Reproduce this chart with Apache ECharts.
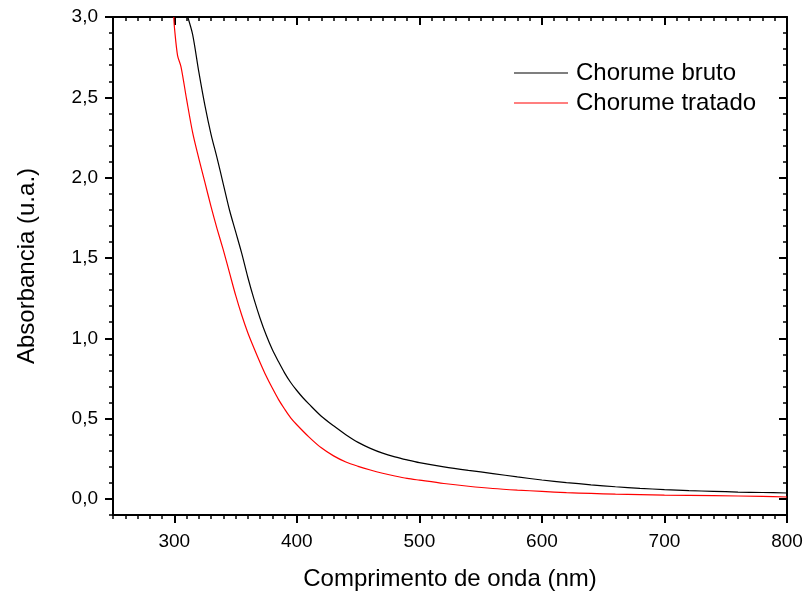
<!DOCTYPE html>
<html>
<head>
<meta charset="UTF-8">
<title>Absorbancia</title>
<script src="https://cdn.jsdelivr.net/npm/echarts@6/dist/echarts.min.js"></script>
<style>
	html, body { margin: 0; padding: 0; background: #fff; }
	#chart { width: 805px; height: 594px; }
</style>
</head>
<body>
<div id="chart"></div>
<script>
// Chorume bruto (black)
var waveBruto = [311, 315, 320, 325, 330, 335, 340, 345, 350, 355, 360, 365, 370, 375, 380, 385, 390, 395, 400, 405, 410, 420, 430, 440, 450, 460, 470, 480, 490, 500, 520, 540, 560, 580, 600, 620, 640, 660, 680, 700, 720, 740, 760, 780, 800];
var absBruto = [3.00, 2.89, 2.66, 2.45, 2.27, 2.12, 1.96, 1.80, 1.665, 1.53, 1.38, 1.245, 1.125, 1.02, 0.93, 0.855, 0.785, 0.725, 0.675, 0.63, 0.59, 0.515, 0.455, 0.40, 0.352, 0.315, 0.285, 0.262, 0.243, 0.226, 0.200, 0.178, 0.158, 0.137, 0.118, 0.102, 0.088, 0.076, 0.066, 0.058, 0.052, 0.047, 0.043, 0.040, 0.037];

// Chorume tratado (red)
var waveTratado = [299.6, 300.2, 302.7, 305.5, 310, 315, 320, 325, 330, 335, 340, 345, 350, 355, 360, 365, 370, 375, 380, 385, 390, 395, 400, 410, 420, 430, 440, 450, 460, 470, 480, 490, 500, 520, 540, 560, 580, 600, 620, 640, 660, 680, 700, 740, 780, 800];
var absTratado = [3.00, 2.93, 2.76, 2.69, 2.49, 2.28, 2.12, 1.97, 1.82, 1.68, 1.55, 1.41, 1.27, 1.145, 1.035, 0.94, 0.85, 0.765, 0.69, 0.62, 0.56, 0.505, 0.462, 0.385, 0.318, 0.268, 0.230, 0.203, 0.180, 0.160, 0.143, 0.128, 0.117, 0.096, 0.079, 0.065, 0.055, 0.047, 0.039, 0.034, 0.030, 0.027, 0.024, 0.020, 0.016, 0.012];

var xTicks = [300, 400, 500, 600, 700, 800];
var yTicks = [0, 0.5, 1.0, 1.5, 2.0, 2.5, 3.0];

function pairs(xs, ys) {
	return xs.map(function (x, i) { return [x, ys[i]]; });
}

var FONT = '"Liberation Sans", Arial, sans-serif';

// minor axis draws the frame line + short ticks, major axis draws long ticks + labels
function xAx(pos, major) {
	return {
		type: 'value', position: pos, min: 250, max: 800, interval: 10,
		axisLine: { show: !major, onZero: false, lineStyle: { color: '#000', width: 2 } },
		axisTick: major
			? { show: true, customValues: xTicks, length: 8, inside: pos === 'top', lineStyle: { color: '#000', width: 2 } }
			: { show: true, length: 4, inside: pos === 'top', lineStyle: { color: '#000', width: 1.5 } },
		axisLabel: (major && pos === 'bottom')
			? { show: true, customValues: xTicks, color: '#000', fontSize: 19, fontFamily: FONT, margin: 17 }
			: { show: false },
		splitLine: { show: false }
	};
}

function yAx(pos, major) {
	return {
		type: 'value', position: pos, min: -0.1, max: 3.0, interval: 0.1,
		axisLine: { show: !major, onZero: false, lineStyle: { color: '#000', width: 2 } },
		axisTick: major
			? { show: true, customValues: yTicks, length: 8, inside: pos === 'right', lineStyle: { color: '#000', width: 2 } }
			: { show: true, length: 4, inside: pos === 'right', lineStyle: { color: '#000', width: 1.5 } },
		axisLabel: (major && pos === 'left')
			? {
				show: true, customValues: yTicks, color: '#000', fontSize: 19, fontFamily: FONT, margin: 15,
				formatter: function (v) { return v.toFixed(1).replace('.', ','); }
			}
			: { show: false },
		splitLine: { show: false }
	};
}

var xAxes = [xAx('bottom', false), xAx('bottom', true), xAx('top', false), xAx('top', true)];
xAxes[1].name = 'Comprimento de onda (nm)';
xAxes[1].nameLocation = 'middle';
xAxes[1].nameGap = 52;
xAxes[1].nameTextStyle = { color: '#000', fontSize: 24, fontFamily: FONT };

var yAxes = [yAx('left', false), yAx('left', true), yAx('right', false), yAx('right', true)];
yAxes[1].name = 'Absorbancia (u.a.)';
yAxes[1].nameLocation = 'middle';
yAxes[1].nameGap = 74;
yAxes[1].nameTextStyle = { color: '#000', fontSize: 24, fontFamily: FONT };

var myChart = echarts.init(document.getElementById('chart'));
var option = {
	animation: false,
	backgroundColor: '#fff',
	grid: { left: 113, right: 18, top: 17, bottom: 79, outerBoundsMode: 'none' },
	legend: {
		orient: 'vertical',
		left: 514, top: 61,
		padding: 0,
		icon: 'rect',
		itemWidth: 54, itemHeight: 1, itemGap: 6,
		textStyle: { color: '#000', fontSize: 24, fontFamily: FONT, padding: [0, 0, 0, 3] },
		data: ['Chorume bruto', 'Chorume tratado']
	},
	xAxis: xAxes,
	yAxis: yAxes,
	series: [
		{
			name: 'Chorume bruto', type: 'line', xAxisIndex: 0, yAxisIndex: 0,
			showSymbol: false, symbol: 'none', smooth: 0.3,
			lineStyle: { color: '#000', width: 1.2 }, itemStyle: { color: '#000' },
			data: pairs(waveBruto, absBruto)
		},
		{
			name: 'Chorume tratado', type: 'line', xAxisIndex: 0, yAxisIndex: 0,
			showSymbol: false, symbol: 'none', smooth: 0.3,
			lineStyle: { color: '#ff0000', width: 1.2 }, itemStyle: { color: '#ff0000' },
			data: pairs(waveTratado, absTratado)
		}
	]
};
myChart.setOption(option);
</script>
</body>
</html>
